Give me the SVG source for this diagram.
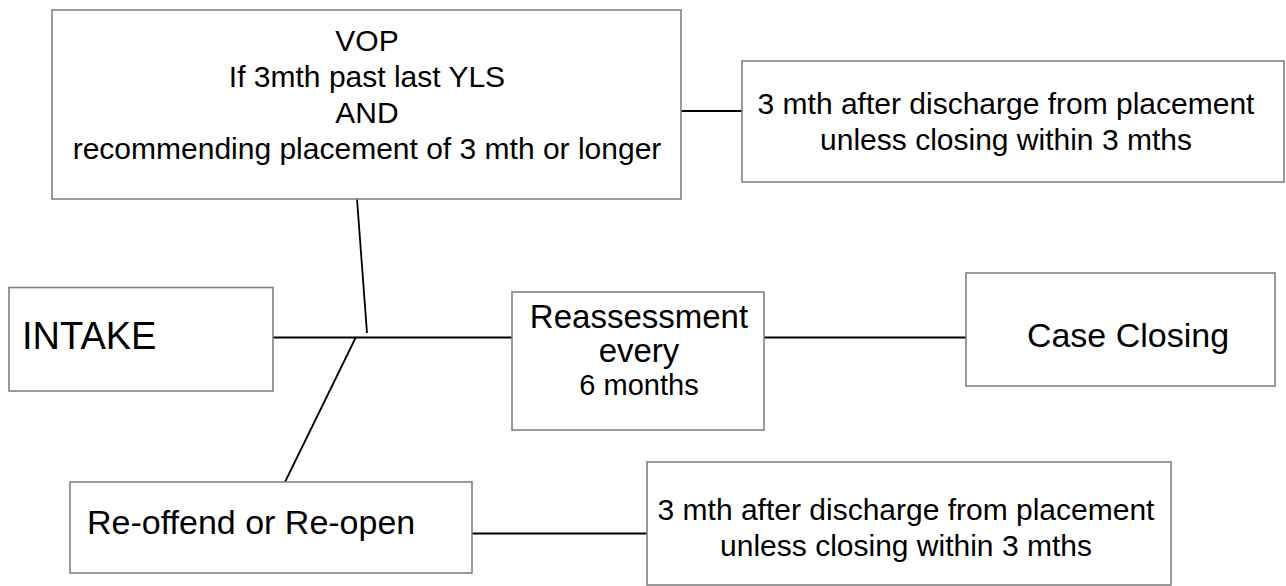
<svg xmlns="http://www.w3.org/2000/svg" width="1286" height="586" viewBox="0 0 1286 586">
<style>
.box{fill:#fff;stroke:#808080;stroke-width:1.6}
.t{font-family:"Liberation Sans",Arial,sans-serif;fill:#000}
.c{text-anchor:middle}
.ln{stroke:#000;stroke-width:1.8;fill:none}
</style>
<rect width="1286" height="586" fill="#fff"/>
<g id="connectors">
<line class="ln" x1="681" y1="111" x2="742" y2="111"/>
<line class="ln" x1="273" y1="337.5" x2="512" y2="337.5"/>
<line class="ln" x1="357" y1="199" x2="367" y2="333"/>
<line class="ln" x1="285" y1="482" x2="356" y2="337"/>
<line class="ln" x1="764" y1="337.5" x2="966" y2="337.5"/>
<line class="ln" x1="472" y1="533.5" x2="647" y2="533.5"/>
</g>
<g id="vop">
<rect class="box" x="52" y="10" width="629" height="189"/>
<text class="t c" font-size="30" x="367" y="51">VOP</text>
<text class="t c" font-size="30" x="367" y="87">If 3mth past last YLS</text>
<text class="t c" font-size="30" x="367" y="123">AND</text>
<text class="t c" font-size="30" x="367" y="159">recommending placement of 3 mth or longer</text>
</g>
<g id="discharge-top">
<rect class="box" x="742" y="61" width="542" height="121"/>
<text class="t c" font-size="30" x="1006" y="114">3 mth after discharge from placement</text>
<text class="t c" font-size="30" x="1006" y="150">unless closing within 3 mths</text>
</g>
<g id="intake">
<rect class="box" x="9" y="287.5" width="264" height="103.5"/>
<text class="t" font-size="38" x="22" y="349">INTAKE</text>
</g>
<g id="reassessment">
<rect class="box" x="512" y="292" width="252" height="138"/>
<text class="t c" font-size="33" x="639" y="328">Reassessment</text>
<text class="t c" font-size="33" x="639" y="362">every</text>
<text class="t c" font-size="29" x="639" y="395">6 months</text>
</g>
<g id="case-closing">
<rect class="box" x="966" y="273" width="309" height="113"/>
<text class="t c" font-size="34" x="1128" y="347">Case Closing</text>
</g>
<g id="reoffend">
<rect class="box" x="70" y="482" width="402" height="91"/>
<text class="t" font-size="34" x="87" y="534">Re-offend or Re-open</text>
</g>
<g id="discharge-bottom">
<rect class="box" x="647" y="462" width="524" height="123"/>
<text class="t c" font-size="30" x="906" y="520">3 mth after discharge from placement</text>
<text class="t c" font-size="30" x="906" y="556">unless closing within 3 mths</text>
</g>
</svg>
